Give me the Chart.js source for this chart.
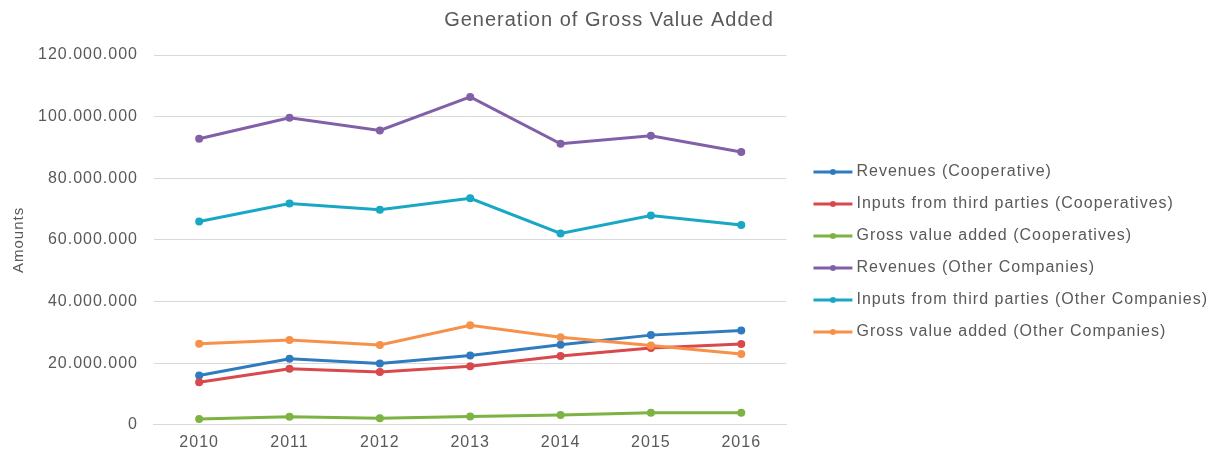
<!DOCTYPE html>
<html>
<head>
<meta charset="utf-8">
<script src="https://cdn.jsdelivr.net/npm/chart.js@4/dist/chart.umd.min.js"></script>
<style>
  html, body { margin: 0; padding: 0; background: #fff; }
</style>
</head>
<body>
<canvas id="myChart" width="1220" height="455"></canvas>
<script>
/******* data *********/
const years = ["2010", "2011", "2012", "2013", "2014", "2015", "2016"];
const seriesNames = [
    "Revenues (Cooperative)",
    "Inputs from third parties (Cooperatives)",
    "Gross value added (Cooperatives)",
    "Revenues (Other Companies)",
    "Inputs from third parties (Other Companies)",
    "Gross value added (Other Companies)"
];
const revenuesCoop = [16000000, 21400000, 19900000, 22500000, 26000000, 29100000, 30600000];
const inputsCoop = [13800000, 18200000, 17100000, 19000000, 22300000, 24900000, 26200000];
const gvaCoop = [1900000, 2600000, 2100000, 2700000, 3200000, 3900000, 3900000];
const revenuesOther = [92800000, 99600000, 95500000, 106400000, 91200000, 93800000, 88500000];
const inputsOther = [66000000, 71800000, 69800000, 73500000, 62100000, 67900000, 64800000];
const gvaOther = [26300000, 27500000, 25900000, 32300000, 28400000, 25700000, 23000000];
const yTicks = [0, 20000000, 40000000, 60000000, 80000000, 100000000, 120000000];

const colors = ['#2E7BBF', '#D9484A', '#7CB342', '#8160A8', '#19A7C6', '#F7914A'];
const allSeries = [revenuesCoop, inputsCoop, gvaCoop, revenuesOther, inputsOther, gvaOther];

/******* legend marker: line with a dot *********/
// image is centred on the legend box, the line sits just left of the text
const makeMarker = (color) => {
    const c = document.createElement('canvas');
    c.width = 100; c.height = 10;
    const g = c.getContext('2d');
    g.strokeStyle = color;
    g.lineWidth = 3;
    g.beginPath();
    g.moveTo(38, 5); g.lineTo(77, 5);
    g.stroke();
    g.fillStyle = color;
    g.beginPath();
    g.arc(57.5, 5, 3, 0, Math.PI * 2);
    g.fill();
    return c;
};

const dotted = (n) => n.toString().replace(/\B(?=(\d{3})+(?!\d))/g, '.');

// the original text is rendered a bit loose, canvas state gets reset on resize so set it each pass
const spacing = {
    id: 'spacing',
    beforeUpdate: (chart) => { chart.ctx.letterSpacing = '1px'; },
    beforeDraw: (chart) => { chart.ctx.letterSpacing = '1px'; }
};

Chart.defaults.font.family = '"Liberation Sans", Arial, sans-serif';
Chart.defaults.color = '#595959';

const ctx = document.getElementById('myChart').getContext('2d');
const myChart = new Chart(ctx, {
    type: 'line',
    plugins: [spacing],
    data: {
        labels: years,
        datasets: allSeries.map((vals, i) => ({
            label: seriesNames[i],
            data: vals,
            borderColor: colors[i],
            backgroundColor: colors[i],
            borderWidth: 3,
            pointRadius: 4,
            pointHoverRadius: 4,
            pointBorderWidth: 0,
            tension: 0,
            fill: false,
            order: allSeries.length - i,
            marker: makeMarker(colors[i])
        }))
    },
    options: {
        responsive: false,
        animation: false,
        layout: { padding: { left: 0, right: 2, top: 0, bottom: -5 } },
        plugins: {
            title: {
                display: true,
                text: 'Generation of Gross Value Added',
                color: '#595959',
                font: { size: 20, weight: 'normal' },
                padding: { top: 8, bottom: 23 }
            },
            legend: {
                position: 'right',
                maxWidth: 460,
                title: { display: true, text: '', font: { size: 10 }, padding: { top: 16, bottom: 16 } },
                labels: {
                    usePointStyle: true,
                    pointStyleWidth: 46,
                    color: '#595959',
                    font: { size: 16 },
                    padding: 16,
                    sort: (a, b) => a.datasetIndex - b.datasetIndex,
                    generateLabels: (chart) => chart.data.datasets.map((ds, i) => ({
                        text: ds.label,
                        fillStyle: ds.borderColor,
                        strokeStyle: ds.borderColor,
                        lineWidth: 0,
                        pointStyle: ds.marker,
                        fontColor: '#595959',
                        datasetIndex: i,
                        hidden: false
                    }))
                }
            },
            tooltip: { enabled: false }
        },
        scales: {
            x: {
                offset: true,
                grid: { display: false, drawTicks: false },
                border: { color: '#d9d9d9', width: 1 },
                ticks: { font: { size: 16 }, color: '#595959', padding: 8 }
            },
            y: {
                min: 0,
                max: 120000000,
                afterBuildTicks: (axis) => { axis.ticks = yTicks.map(v => ({ value: v })); },
                grid: { color: '#d9d9d9', lineWidth: 1, drawTicks: false },
                border: { display: false },
                title: {
                    display: true,
                    text: 'Amounts',
                    color: '#595959',
                    font: { size: 15 },
                    padding: { top: 10, bottom: -6 }
                },
                ticks: {
                    font: { size: 16 },
                    color: '#595959',
                    padding: 16,
                    callback: (v) => dotted(v)
                }
            }
        }
    }
});
</script>
</body>
</html>
